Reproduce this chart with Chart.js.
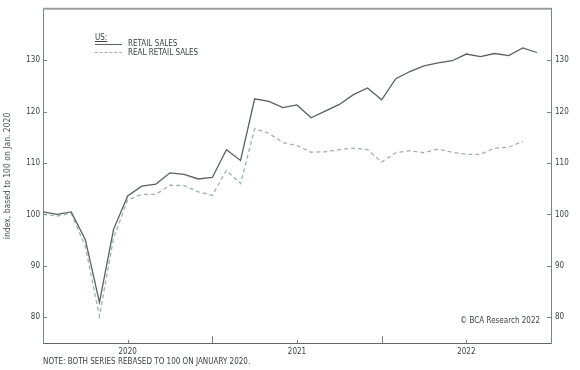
<!DOCTYPE html>
<html>
<head>
<meta charset="utf-8">
<script src="https://cdn.jsdelivr.net/npm/chart.js@4.4.1/dist/chart.umd.min.js"></script>
<style>
    html, body { margin: 0; padding: 0; background: #fff; }
    #wrap { position: relative; width: 580px; height: 370px; font-family: 'Liberation Sans Narrow', 'DejaVu Sans Condensed', sans-serif; color: #3c4241; }
    canvas { position: absolute; left: 0; top: 0; }
    .txt { position: absolute; font-size: 8px; white-space: nowrap; line-height: 1; }
    .legend-line { position: absolute; width: 27px; height: 0; }
</style>
</head>
<body>
<div id="wrap">
    <canvas id="chart" width="580" height="370"></canvas>
    <div class="txt" style="left:95px; top:34px; text-decoration: underline;">US:</div>
    <div class="legend-line" style="left:95px; top:44px; border-top:1.3px solid #596060;"></div>
    <div class="txt" style="left:128px; top:40px;">RETAIL SALES</div>
    <div class="legend-line" style="left:95px; top:52px; border-top:1.3px dashed #9fb2ac;"></div>
    <div class="txt" style="left:128px; top:49px;">REAL RETAIL SALES</div>
    <div class="txt" style="left:460px; top:317px;">© BCA Research 2022</div>
    <div class="txt" style="left:43px; top:358px;">NOTE: BOTH SERIES REBASED TO 100 ON JANUARY 2020.</div>
</div>
<script>
// monthly points, Dec 2019 .. Dec 2022
const months = [
    'Dec 19',
    'Jan 20', 'Feb 20', 'Mar 20', 'Apr 20', 'May 20', 'Jun 20', 'Jul 20', 'Aug 20', 'Sep 20', 'Oct 20', 'Nov 20', 'Dec 20',
    'Jan 21', 'Feb 21', 'Mar 21', 'Apr 21', 'May 21', 'Jun 21', 'Jul 21', 'Aug 21', 'Sep 21', 'Oct 21', 'Nov 21', 'Dec 21',
    'Jan 22', 'Feb 22', 'Mar 22', 'Apr 22', 'May 22', 'Jun 22', 'Jul 22', 'Aug 22', 'Sep 22', 'Oct 22', 'Nov 22', 'Dec 22'
];
const retailSales = [
    100.5, 100.0, 100.5, 95.1, 82.9, 97.1, 103.6, 105.5, 105.9, 108.1, 107.8, 106.9, 107.2,
    112.6, 110.5, 122.5, 122.0, 120.8, 121.3, 118.8, 120.1, 121.4, 123.3, 124.6, 122.3,
    126.4, 127.8, 128.9, 129.5, 129.9, 131.2, 130.7, 131.3, 130.9, 132.4, 131.5, null
];
const realRetailSales = [
    100.0, 99.7, 100.2, 93.8, 80.2, 95.4, 102.8, 103.9, 103.9, 105.7, 105.6, 104.4, 103.7,
    108.6, 106.0, 116.7, 115.8, 114.0, 113.4, 112.1, 112.2, 112.6, 112.9, 112.6, 110.2,
    112.0, 112.4, 112.0, 112.7, 112.1, 111.7, 111.7, 112.9, 113.1, 114.2, null, null
];
const yTicks = [80, 90, 100, 110, 120, 130];
const yearLabels = { 'Jun 20': '2020', 'Jun 21': '2021', 'Jun 22': '2022' };
const yearEnds = ['Dec 20', 'Dec 21'];

const axisColor = '#7d8584';
const tickFont = { family: "'Liberation Sans Narrow', 'DejaVu Sans Condensed', sans-serif", size: 8 };

// inward tick marks + top frame line
const innerTicks = {
    id: 'innerTicks',
    afterDraw(chart) {
        const { ctx, chartArea } = chart;
        const x = chart.scales.x, yl = chart.scales.y, yr = chart.scales.y2;
        ctx.save();
        ctx.strokeStyle = axisColor;
        ctx.lineWidth = 1;
        yTicks.forEach(v => {
            const py = Math.round(yl.getPixelForValue(v)) + 0.5;
            ctx.beginPath();
            ctx.moveTo(chartArea.left, py); ctx.lineTo(chartArea.left + 4, py);
            const pr = Math.round(yr.getPixelForValue(v)) + 0.5;
            ctx.moveTo(chartArea.right, pr); ctx.lineTo(chartArea.right - 4, pr);
            ctx.stroke();
        });
        months.forEach((m, i) => {
            let len = 0;
            if (yearEnds.includes(m)) len = 7;
            else if (yearLabels[m]) len = 3;
            if (!len) return;
            const px = Math.round(x.getPixelForValue(i)) + 0.5;
            ctx.beginPath();
            ctx.moveTo(px, chartArea.bottom); ctx.lineTo(px, chartArea.bottom - len);
            ctx.stroke();
        });
        ctx.strokeStyle = '#9a9f9e';
        ctx.lineWidth = 2;
        ctx.beginPath();
        ctx.moveTo(chartArea.left, chartArea.top); ctx.lineTo(chartArea.right, chartArea.top);
        ctx.stroke();
        ctx.restore();
    }
};

const ctx = document.getElementById('chart').getContext('2d');
new Chart(ctx, {
    type: 'line',
    data: {
        labels: months,
        datasets: [
            {
                label: 'RETAIL SALES',
                data: retailSales,
                borderColor: '#596060',
                borderWidth: 1.3,
                pointRadius: 0,
                tension: 0,
                yAxisID: 'y'
            },
            {
                label: 'REAL RETAIL SALES',
                data: realRetailSales,
                borderColor: '#9fb2ac',
                borderWidth: 1.3,
                borderDash: [4, 3],
                pointRadius: 0,
                tension: 0,
                yAxisID: 'y'
            }
        ]
    },
    options: {
        responsive: false,
        animation: false,
        layout: { padding: { top: 5, left: 0, right: 0, bottom: 0 } },
        plugins: { legend: { display: false }, tooltip: { enabled: false } },
        scales: {
            x: {
                type: 'category',
                offset: false,
                grid: { display: false, drawTicks: false },
                border: { color: '#5f6665', width: 1 },
                ticks: {
                    autoSkip: false, maxRotation: 0, padding: 4,
                    color: '#3c4241', font: tickFont,
                    callback: (v, i) => yearLabels[months[i]] || ''
                },
                afterFit: s => { s.height = 27; }
            },
            y: {
                position: 'left',
                min: 75, max: 140,
                afterBuildTicks: s => { s.ticks = yTicks.map(v => ({ value: v })); },
                grid: { display: false, drawTicks: false },
                border: { color: axisColor, width: 1 },
                ticks: { padding: 3, color: '#3c4241', font: tickFont },
                title: {
                    display: true, text: 'index, based to 100 on Jan. 2020',
                    color: '#4a5150', font: { family: tickFont.family, size: 8.5 }, padding: { top: 3, bottom: 0 }
                },
                afterFit: s => { s.width = 43; }
            },
            y2: {
                position: 'right',
                min: 75, max: 140,
                afterBuildTicks: s => { s.ticks = yTicks.map(v => ({ value: v })); },
                grid: { display: false, drawTicks: false },
                border: { color: axisColor, width: 1 },
                ticks: { padding: 4, color: '#3c4241', font: tickFont },
                afterFit: s => { s.width = 29; }
            }
        }
    },
    plugins: [innerTicks]
});
</script>
</body>
</html>
